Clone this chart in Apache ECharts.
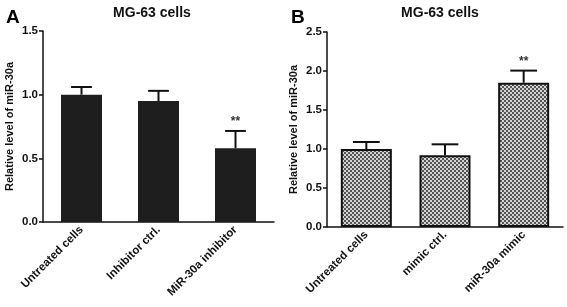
<!DOCTYPE html>
<html><head><meta charset="utf-8">
<script src="https://cdn.jsdelivr.net/npm/echarts@6/dist/echarts.min.js"></script>
<style>html,body{margin:0;padding:0;background:#fff}#c{width:567px;height:307px}</style>
</head><body><div id="c"></div>
<script>
const titleA = 'MG-63 cells';
const titleB = 'MG-63 cells';
const categoriesA = ['Untreated cells', 'Inhibitor ctrl.', 'MiR-30a inhibitor'];
const valuesA = [1.0, 0.95, 0.58];
const errorsA = [0.06, 0.08, 0.135];
const starsA = ['', '', '**'];
const categoriesB = ['Untreated cells', 'mimic ctrl.', 'miR-30a mimic'];
const valuesB = [1.0, 0.92, 1.85];
const errorsB = [0.09, 0.14, 0.155];
const starsB = ['', '', '**'];
const yTicksA = [0, 0.5, 1.0, 1.5];
const yTicksB = [0, 0.5, 1.0, 1.5, 2.0, 2.5];
const yName = 'Relative level of miR-30a';

const FONT = '"Liberation Sans", Arial, sans-serif';

// checker pattern for panel B bars
const pc = document.createElement('canvas');
pc.width = 4; pc.height = 4;
const px = pc.getContext('2d');
px.fillStyle = '#d4d4d4'; px.fillRect(0,0,4,4);
px.fillStyle = '#555'; px.fillRect(0,0,2,2); px.fillRect(2,2,2,2);

const chart = echarts.init(document.getElementById('c'), null, {renderer: 'canvas'});

function errSeries(xi, yi, vals, errs, stars, capFrac) {
  return {
    type: 'custom', xAxisIndex: xi, yAxisIndex: yi, z: 5,
    data: vals.map((v, i) => [i, v, errs[i]]),
    renderItem: function (params, api) {
      const i = api.value(0), v = api.value(1), e = api.value(2);
      const base = api.coord([i, v]);
      const top = api.coord([i, v + e]);
      const hw = api.size([1, 0])[0] * capFrac;
      const st = stars[params.dataIndex];
      const ch = [
        {type: 'line', shape: {x1: base[0], y1: base[1], x2: top[0], y2: top[1]}, style: {stroke: '#111', lineWidth: 2}},
        {type: 'line', shape: {x1: top[0] - hw, y1: top[1], x2: top[0] + hw, y2: top[1]}, style: {stroke: '#111', lineWidth: 2}}
      ];
      if (st) ch.push({type: 'text', style: {text: st, x: top[0], y: top[1] - 3, align: 'center', verticalAlign: 'bottom', font: 'bold 12px ' + FONT, fill: '#333'}});
      return {type: 'group', children: ch};
    }
  };
}

function xAx(gi, cats) {
  return {
    type: 'category', gridIndex: gi, data: cats,
    axisLine: {lineStyle: {color: '#111', width: 1.5}},
    axisTick: {alignWithLabel: true, length: 4, lineStyle: {color: '#111', width: 1.5}},
    axisLabel: {rotate: 45, color: '#111', fontWeight: 'bold', fontSize: 11.5, fontFamily: FONT, margin: 6, interval: 0}
  };
}
function yAx(gi, ticks) {
  return {
    type: 'value', gridIndex: gi, min: ticks[0], max: ticks[ticks.length - 1], interval: ticks[1] - ticks[0],
    name: yName, nameLocation: 'middle', nameRotate: 90, nameGap: 28,
    nameTextStyle: {color: '#111', fontWeight: 'bold', fontSize: 11, fontFamily: FONT},
    axisLine: {show: true, lineStyle: {color: '#111', width: 1.5}},
    axisTick: {show: true, length: 4, lineStyle: {color: '#111', width: 1.5}},
    splitLine: {show: false},
    axisLabel: {color: '#111', fontWeight: 'bold', fontSize: 11.5, fontFamily: FONT, margin: 5, formatter: v => v.toFixed(1)}
  };
}

chart.setOption({
  animation: false,
  textStyle: {fontFamily: FONT},
  title: [
    {text: titleA, left: 147, top: 1, textAlign: 'center', textStyle: {fontSize: 14, fontWeight: 'bold', color: '#111', fontFamily: FONT}},
    {text: titleB, left: 435, top: 1, textAlign: 'center', textStyle: {fontSize: 14, fontWeight: 'bold', color: '#111', fontFamily: FONT}},
    {text: 'A', left: 1, top: 3, textStyle: {fontSize: 19, fontWeight: 'bold', color: '#000', fontFamily: FONT}},
    {text: 'B', left: 286, top: 3, textStyle: {fontSize: 19, fontWeight: 'bold', color: '#000', fontFamily: FONT}}
  ],
  grid: [
    {left: 43, top: 31, width: 231, height: 191},
    {left: 327, top: 32, width: 236, height: 195}
  ],
  xAxis: [xAx(0, categoriesA), xAx(1, categoriesB)],
  yAxis: [yAx(0, yTicksA), yAx(1, yTicksB)],
  series: [
    {type: 'bar', xAxisIndex: 0, yAxisIndex: 0, data: valuesA, barWidth: 41,
     itemStyle: {color: '#1e1e1e'}},
    {type: 'bar', xAxisIndex: 1, yAxisIndex: 1, data: valuesB, barWidth: 51,
     itemStyle: {color: {image: pc, repeat: 'repeat'}, borderColor: '#111', borderWidth: 2}},
    errSeries(0, 0, valuesA, errorsA, starsA, 0.135),
    errSeries(1, 1, valuesB, errorsB, starsB, 0.17)
  ]
});
</script></body></html>
